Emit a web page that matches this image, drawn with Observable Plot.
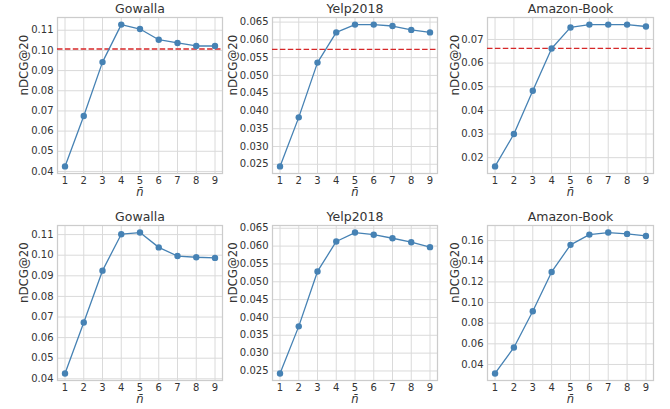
<!DOCTYPE html>
<html><head><meta charset="utf-8">
<script src="https://cdn.jsdelivr.net/npm/d3@7"></script>
<script src="https://cdn.jsdelivr.net/npm/@observablehq/plot@0.6"></script>
<style>
body{margin:0;background:#fff;}
#c{position:relative;width:670px;height:409px;font-family:"DejaVu Sans",sans-serif;overflow:hidden;}
.p{position:absolute;}
</style></head><body><div id="c"></div>
<script>
// x values (n-bar)
const nBar = [1, 2, 3, 4, 5, 6, 7, 8, 9];
const titles = ["Gowalla", "Yelp2018", "Amazon-Book"];
const yLabel = "nDCG@20";
const xLabel = "n\u0304";

// top row
const gowallaTop = [0.0425, 0.0675, 0.0942, 0.1128, 0.1106, 0.1053, 0.1037, 0.1022, 0.1022];
const yelpTop = [0.0244, 0.0382, 0.0536, 0.0621, 0.0643, 0.0643, 0.0639, 0.0628, 0.0621];
const amazonTop = [0.0163, 0.0300, 0.0483, 0.0662, 0.0751, 0.0763, 0.0763, 0.0763, 0.0755];
const baselinesTop = [0.1007, 0.0573, 0.0662];

// bottom row
const gowallaBottom = [0.0426, 0.0673, 0.0925, 0.1102, 0.1110, 0.1038, 0.0996, 0.0990, 0.0987];
const yelpBottom = [0.0243, 0.0375, 0.0529, 0.0613, 0.0638, 0.0632, 0.0622, 0.0611, 0.0597];
const amazonBottom = [0.0313, 0.0565, 0.0915, 0.1296, 0.1559, 0.1658, 0.1678, 0.1665, 0.1645];

// tick labels
const ticksGowalla = [0.04, 0.05, 0.06, 0.07, 0.08, 0.09, 0.10, 0.11];
const ticksYelp = [0.025, 0.030, 0.035, 0.040, 0.045, 0.050, 0.055, 0.060, 0.065];
const ticksAmazonTop = [0.02, 0.03, 0.04, 0.05, 0.06, 0.07];
const ticksAmazonBottom = [0.04, 0.06, 0.08, 0.10, 0.12, 0.14, 0.16];
const tickDecimals = [2, 3, 2];

const cols = [
  {left: 0, width: 224, ml: 57, mr: 2, lx: 24},
  {left: 224, width: 222, ml: 48, mr: 9, lx: 233},
  {left: 446, width: 224, ml: 41, mr: 17, lx: 455}
];
const rows = [
  {top: 0, height: 204, mt: 17, mb: 31},
  {top: 204, height: 205, mt: 21, mb: 29}
];

const blue = "#4682b4";
const grid = "#dadada";
const ink = "#333333";

function panel(values, ticks, decimals, baseline, r, c) {
  const row = rows[r], col = cols[c];
  const lo = d3.min(values), hi = d3.max(values), pad = (hi - lo) * 0.05;
  const data = nBar.map((n, i) => ({n, v: values[i]}));
  const marks = [
    Plot.ruleX(nBar, {stroke: grid, strokeWidth: 1}),
    Plot.ruleY(ticks, {stroke: grid, strokeWidth: 1}),
    Plot.frame({stroke: "#cccccc", strokeWidth: 1.25}),
  ];
  if (baseline != null) marks.push(Plot.ruleY([baseline], {stroke: "#d62728", strokeWidth: 1.3, strokeDasharray: "5.5,2.4"}));
  marks.push(
    Plot.line(data, {x: "n", y: "v", stroke: blue, strokeWidth: 1.3}),
    Plot.dot(data, {x: "n", y: "v", fill: blue, stroke: "none", r: 3.2}),
    Plot.axisX({ticks: nBar, tickSize: 0, tickPadding: 3, label: null, tickFormat: d3.format("d"), fill: ink}),
    Plot.axisY({ticks, tickSize: 0, tickPadding: 4, tickFormat: d3.format(`.${decimals}f`), label: null, fill: ink}),
    Plot.text([titles[c]], {frameAnchor: "top", dy: -8.5, lineAnchor: "middle", fontSize: 12.5, fontWeight: "normal", fill: ink}),
    Plot.text([yLabel], {frameAnchor: "left", rotate: -90, dx: col.lx - (col.left + col.ml), lineAnchor: "middle", fontSize: 11.8, fontWeight: "normal", fill: ink}),
    Plot.text([xLabel], {frameAnchor: "bottom", dy: 19, lineAnchor: "middle", fontSize: 11.5, fontStyle: "italic", fill: ink})
  );
  const svg = Plot.plot({
    width: col.width, height: row.height,
    marginLeft: col.ml, marginRight: col.mr, marginTop: row.mt, marginBottom: row.mb,
    x: {domain: [0.6, 9.4]},
    y: {domain: [lo - pad, hi + pad]},
    style: {fontFamily: "DejaVu Sans", fontSize: "10px", color: ink, background: "transparent"},
    marks
  });
  const div = document.createElement("div");
  div.className = "p";
  div.style.left = col.left + "px";
  div.style.top = row.top + "px";
  div.appendChild(svg);
  document.getElementById("c").appendChild(div);
}

panel(gowallaTop, ticksGowalla, tickDecimals[0], baselinesTop[0], 0, 0);
panel(yelpTop, ticksYelp, tickDecimals[1], baselinesTop[1], 0, 1);
panel(amazonTop, ticksAmazonTop, tickDecimals[2], baselinesTop[2], 0, 2);
panel(gowallaBottom, ticksGowalla, tickDecimals[0], null, 1, 0);
panel(yelpBottom, ticksYelp, tickDecimals[1], null, 1, 1);
panel(amazonBottom, ticksAmazonBottom, tickDecimals[2], null, 1, 2);
</script></body></html>
